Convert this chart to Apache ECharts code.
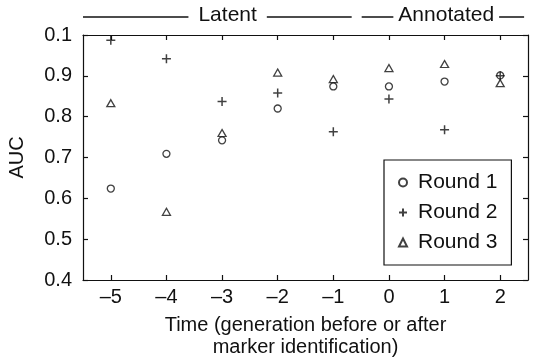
<!DOCTYPE html>
<html>
<head>
<meta charset="utf-8">
<script src="https://cdn.jsdelivr.net/npm/echarts@6/dist/echarts.min.js"></script>
<style>
html, body { margin: 0; padding: 0; background: #fff; }
#chart { width: 538px; height: 361px; }
</style>
</head>
<body>
<div id="chart"></div>
<script>
// generations relative to marker identification
const times = ['-5', '-4', '-3', '-2', '-1', '0', '1', '2']
const round1 = [0.624, 0.709, 0.742, 0.820, 0.874, 0.874, 0.886, 0.901]
const round2 = [0.987, 0.942, 0.837, 0.858, 0.763, 0.843, 0.768, 0.900]
const round3 = [0.833, 0.567, 0.760, 0.908, 0.892, 0.919, 0.929, 0.882]
const yTickLabels = ['0.4', '0.5', '0.6', '0.7', '0.8', '0.9', '0.1']
// spans of the top annotations, in generations
const periods = [
    { name: 'Latent', from: -5.5, to: -0.67, at: -2.9 },
    { name: 'Annotated', from: -0.49, to: 2.43, at: 1.03 }
]

const font = '"Liberation Sans", Arial, sans-serif'
const ink = '#111'
const chart = echarts.init(document.getElementById('chart'))

const lineStyle = { color: ink, width: 1.2 }
const tickIn = { show: true, inside: true, length: 5, alignWithLabel: true, lineStyle: lineStyle }

chart.setOption({
    animation: false,
    textStyle: { fontFamily: font },
    grid: { left: 83, right: 10, top: 35, bottom: 81, outerBoundsMode: 'none' },
    legend: {
        orient: 'vertical',
        left: 384,
        top: 160,
        padding: [12, 14, 12, 14],
        itemGap: 9,
        itemWidth: 8,
        itemHeight: 8,
        borderColor: ink,
        borderWidth: 1.2,
        backgroundColor: '#fff',
        textStyle: { fontSize: 21, color: ink, fontFamily: font, padding: [0, 0, 0, 6] },
        data: ['Round 1', 'Round 2', 'Round 3']
    },
    xAxis: [{
        type: 'category',
        data: times,
        boundaryGap: true,
        position: 'bottom',
        axisLine: { lineStyle: lineStyle },
        axisTick: tickIn,
        axisLabel: {
            margin: 7,
            fontSize: 20,
            color: ink,
            formatter: v => v.replace('-', '\u2013')
        },
        name: 'Time (generation before or after\nmarker identification)',
        nameLocation: 'middle',
        nameGap: 34,
        nameTextStyle: { fontSize: 20, color: ink, lineHeight: 22 }
    }, {
        type: 'category',
        data: times,
        boundaryGap: true,
        position: 'top',
        axisLine: { lineStyle: lineStyle },
        axisTick: tickIn,
        axisLabel: { show: false }
    }],
    yAxis: [{
        type: 'value',
        min: 0.4,
        max: 1.0,
        interval: 0.1,
        axisLine: { show: true, lineStyle: lineStyle },
        axisTick: { show: true, inside: true, length: 5, lineStyle: lineStyle },
        splitLine: { show: false },
        axisLabel: {
            margin: 11,
            fontSize: 20,
            color: ink,
            formatter: v => yTickLabels[Math.round((v - 0.4) * 10)]
        },
        name: 'AUC',
        nameLocation: 'middle',
        nameRotate: 90,
        nameGap: 56,
        nameTextStyle: { fontSize: 20, color: ink }
    }, {
        type: 'value',
        min: 0.4,
        max: 1.0,
        interval: 0.1,
        position: 'right',
        axisLine: { show: true, lineStyle: lineStyle },
        axisTick: { show: true, inside: true, length: 5, lineStyle: lineStyle },
        splitLine: { show: false },
        axisLabel: { show: false }
    }],
    series: [{
        name: 'Round 1',
        type: 'scatter',
        data: round1,
        symbol: 'circle',
        symbolSize: 7,
        itemStyle: { color: 'transparent', borderColor: ink, borderWidth: 1.3 }
    }, {
        name: 'Round 2',
        type: 'scatter',
        data: round2,
        symbol: 'path://M5,0L5,10M0,5L10,5',
        symbolSize: 9,
        itemStyle: { color: 'transparent', borderColor: ink, borderWidth: 1.5 }
    }, {
        name: 'Round 3',
        type: 'scatter',
        data: round3,
        symbol: 'triangle',
        symbolSize: [8, 7],
        itemStyle: { color: 'transparent', borderColor: ink, borderWidth: 1.3 }
    }]
})

// top annotation lines, placed from the x axis scale
const x0 = chart.convertToPixel({ xAxisIndex: 0 }, times[0])
const x1 = chart.convertToPixel({ xAxisIndex: 0 }, times[1])
const toPx = v => x0 + (v - Number(times[0])) * (x1 - x0)
const labelFont = '21px ' + font
const ctx = document.createElement('canvas').getContext('2d')
ctx.font = labelFont
const topY = 17
const graphic = []
periods.forEach((p, i) => {
    const c = toPx(p.at)
    const w = ctx.measureText(p.name).width
    const gap = i === 0 ? 10 : 5
    graphic.push({
        type: 'text',
        left: c - w / 2,
        top: topY - 12,
        style: { text: p.name, font: labelFont, fill: ink }
    })
    graphic.push({
        type: 'line',
        shape: { x1: toPx(p.from), y1: topY, x2: c - w / 2 - gap, y2: topY },
        style: { stroke: ink, lineWidth: 1.5 }
    })
    graphic.push({
        type: 'line',
        shape: { x1: c + w / 2 + gap, y1: topY, x2: toPx(p.to), y2: topY },
        style: { stroke: ink, lineWidth: 1.5 }
    })
})
chart.setOption({ graphic: graphic })
</script>
</body>
</html>
